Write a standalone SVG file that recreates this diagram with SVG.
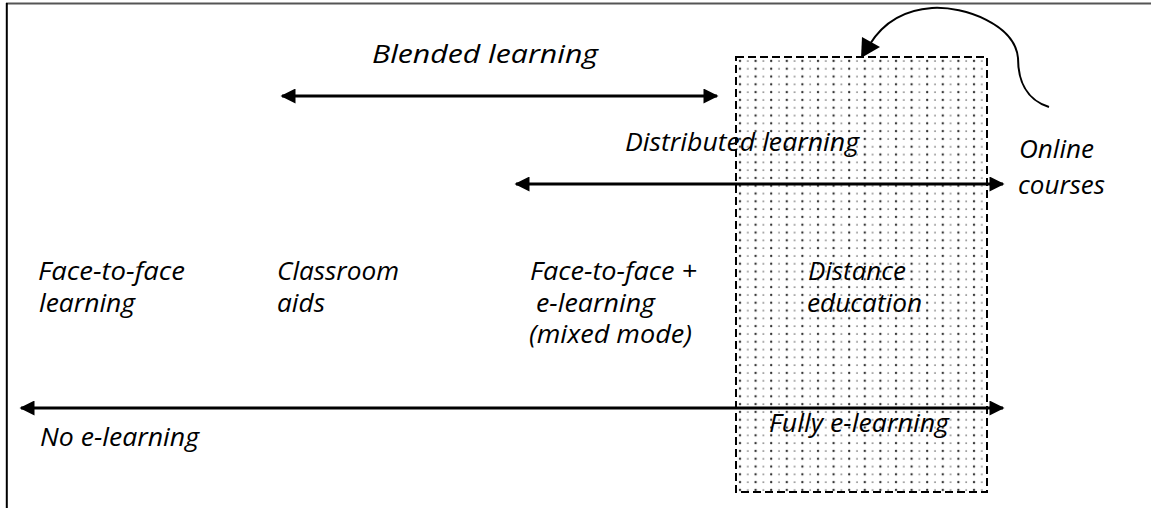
<svg xmlns="http://www.w3.org/2000/svg" width="1151" height="508" viewBox="0 0 1151 508">
  <defs>
    <style>
      .lbl { font-family: "Open Sans", "Liberation Sans", sans-serif; font-style: italic; font-size: 25px; fill: #000; }
      .axis { stroke: #000; stroke-width: 3; fill: none; }
    </style>
    <marker id="head" viewBox="0 0 10 10" refX="9" refY="5" markerWidth="5.3" markerHeight="5" markerUnits="strokeWidth" orient="auto-start-reverse">
      <path d="M0,0 L10,5 L0,10 Z" fill="#000"/>
    </marker>
    <pattern id="dots" x="736" y="57" width="15.6" height="7.8" patternUnits="userSpaceOnUse">
      <circle cx="4" cy="4" r="1.2" fill="#333"/>
      <circle cx="11.8" cy="4" r="0.9" fill="#777"/>
    </pattern>
  </defs>

  <!-- page frame -->
  <g id="frame">
    <line x1="6" y1="3.5" x2="1151" y2="3.5" stroke="#555" stroke-width="2"/>
    <line x1="6.8" y1="3" x2="6.8" y2="508" stroke="#000" stroke-width="2"/>
  </g>

  <!-- distance education zone -->
  <g id="distance-zone">
    <rect x="736" y="57" width="251" height="435" fill="url(#dots)"/>
    <rect x="736" y="57" width="251" height="435" fill="none" stroke="#000" stroke-width="2" stroke-dasharray="8,4"/>
  </g>

  <g id="connectors">
    <line id="blended-range" class="axis" x1="282" y1="96" x2="717" y2="96" marker-start="url(#head)" marker-end="url(#head)"/>
    <line id="distributed-range" class="axis" x1="516" y1="184" x2="1003" y2="184" marker-start="url(#head)" marker-end="url(#head)"/>
    <line id="elearning-range" class="axis" x1="21" y1="408" x2="1003" y2="408" marker-start="url(#head)" marker-end="url(#head)"/>
    <path id="online-pointer" d="M1049,107 C1026,100 1018,80 1018,58 C1015,25 965,6 932,8 C902,10 882,25 870,44" stroke="#000" stroke-width="2" fill="none"/>
    <path d="M861,58 L862,37 L880,47 Z" fill="#000"/>
  </g>

  <g id="blended">
    <text class="lbl" x="372" y="63" textLength="226" lengthAdjust="spacingAndGlyphs">Blended learning</text>
  </g>
  <g id="distributed">
    <text class="lbl" x="625" y="151" textLength="234" lengthAdjust="spacingAndGlyphs">Distributed learning</text>
  </g>
  <g id="online">
    <text class="lbl" x="1019" y="158" textLength="75" lengthAdjust="spacingAndGlyphs">Online</text>
    <text class="lbl" x="1018" y="194" textLength="87" lengthAdjust="spacingAndGlyphs">courses</text>
  </g>
  <g id="face-to-face">
    <text class="lbl" x="38" y="280" textLength="147" lengthAdjust="spacingAndGlyphs">Face-to-face</text>
    <text class="lbl" x="39" y="312" textLength="96" lengthAdjust="spacingAndGlyphs">learning</text>
  </g>
  <g id="classroom">
    <text class="lbl" x="277" y="280" textLength="122" lengthAdjust="spacingAndGlyphs">Classroom</text>
    <text class="lbl" x="277" y="312" textLength="48" lengthAdjust="spacingAndGlyphs">aids</text>
  </g>
  <g id="mixed">
    <text class="lbl" x="530" y="280" textLength="167" lengthAdjust="spacingAndGlyphs">Face-to-face +</text>
    <text class="lbl" x="536" y="312" textLength="119" lengthAdjust="spacingAndGlyphs">e-learning</text>
    <text class="lbl" x="529" y="343" textLength="163" lengthAdjust="spacingAndGlyphs">(mixed mode)</text>
  </g>
  <g id="distance">
    <text class="lbl" x="808" y="280" textLength="98" lengthAdjust="spacingAndGlyphs">Distance</text>
    <text class="lbl" x="807" y="312" textLength="115" lengthAdjust="spacingAndGlyphs">education</text>
  </g>
  <g id="no-elearning">
    <text class="lbl" x="40" y="446" textLength="159" lengthAdjust="spacingAndGlyphs">No e-learning</text>
  </g>
  <g id="fully-elearning">
    <text class="lbl" x="769" y="432" textLength="180" lengthAdjust="spacingAndGlyphs">Fully e-learning</text>
  </g>
</svg>
